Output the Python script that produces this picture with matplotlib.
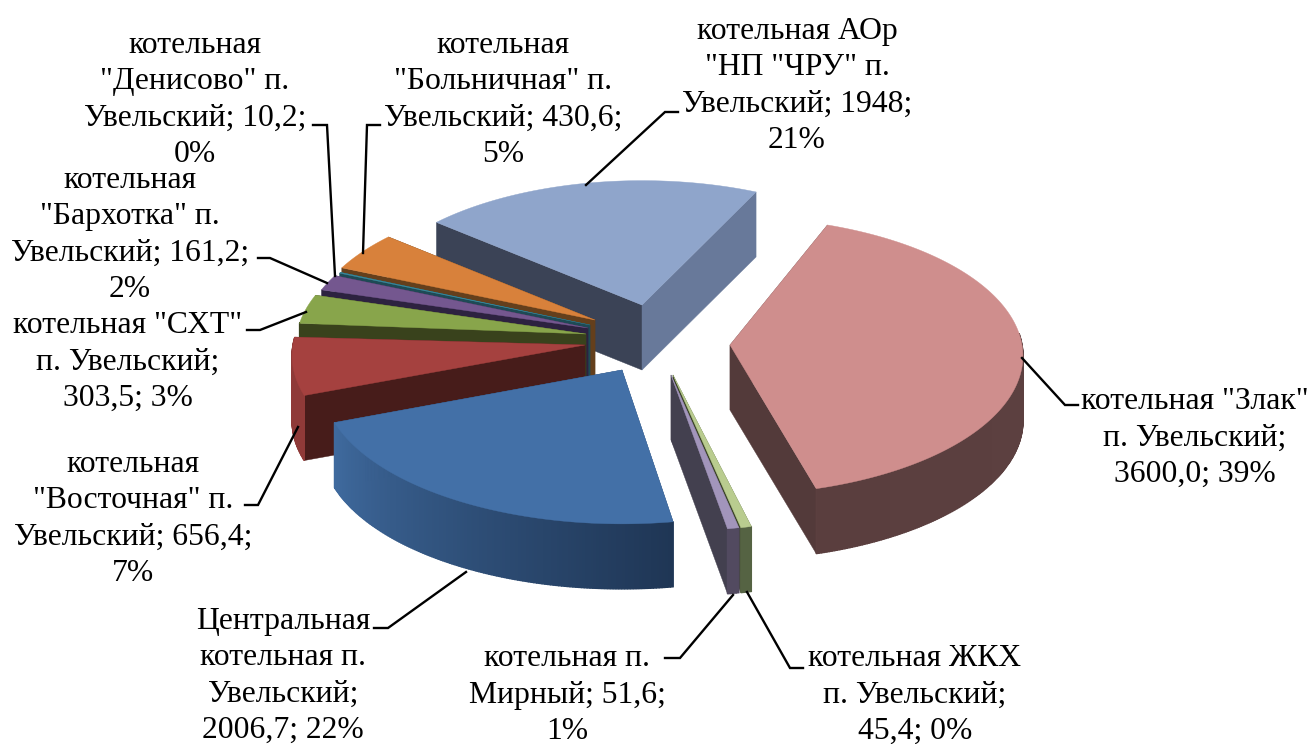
import numpy as np
import matplotlib
matplotlib.use('Agg')
import matplotlib.pyplot as plt
from matplotlib.patches import Polygon

# values, clockwise starting from the big red slice
names = ['Злак', 'ЖКХ', 'Мирный', 'Центральная', 'Восточная', 'СХТ', 'Бархотка', 'Денисово', 'Больничная', 'АОр']
values = [3600.0, 45.4, 51.6, 2006.7, 656.4, 303.5, 161.2, 10.2, 430.6, 1948.0]
labels = [
    'котельная "Злак"\nп. Увельский;\n3600,0; 39%',
    'котельная ЖКХ\nп. Увельский;\n45,4; 0%',
    'котельная п.\nМирный; 51,6;\n1%',
    'Центральная\nкотельная п.\nУвельский;\n2006,7; 22%',
    'котельная\n"Восточная" п.\nУвельский; 656,4;\n7%',
    'котельная "СХТ"\nп. Увельский;\n303,5; 3%',
    'котельная\n"Бархотка" п.\nУвельский; 161,2;\n2%',
    'котельная\n"Денисово" п.\nУвельский; 10,2;\n0%',
    'котельная\n"Больничная" п.\nУвельский; 430,6;\n5%',
    'котельная АОр\n"НП "ЧРУ" п.\nУвельский; 1948;\n21%',
]

# look of every slice: apex on the canvas, radius factor, start/end angle nudge (perspective)
apex = [(730, 345), (673, 375), (671, 375), (622, 370), (585, 345), (586, 334), (588, 328), (590, 325), (595, 320), (642, 305)]
rad = [1.0, 1.04, 1.04, 1.025, 1.0, 0.99, 0.975, 0.965, 0.975, 0.97]
nudge = [(0, 2.5), (4.6, 4.7), (4.7, 4.7), (5.5, 5), (5.3, 3.8), (5, 5.5), (5.5, 6), (6, 6), (5.5, 5.5), (5.5, 4.5)]
top_col = ['#cf8e8d', '#b9cc8f', '#a295bb', '#4370a7', '#a5413f', '#88a54b', '#74578f', '#3a8a9e', '#d8813b', '#8fa5cb']
start_face = ['#6a5050', '#556343', '#524a60', '#2b4a73', '#471c1a', '#39421c', '#2d2240', '#1e4a55', '#643f1c', '#3b4356']
end_face = ['#533a3a', '#3c4528', '#43404f', '#2b4a73', '#471c1a', '#39421c', '#2d2240', '#1e4a55', '#643f1c', '#68799a']
wall_from = ['#5f4343', '#556343', '#524a60', '#1f3655', '#8f3a38', '#39421c', '#2d2240', '#1e4a55', '#643f1c', '#68799a']
wall_to = ['#5a3e3e', '#556343', '#524a60', '#3f6a9e', '#8f3a38', '#39421c', '#2d2240', '#1e4a55', '#643f1c', '#68799a']

# leader lines
leaders = [
    [(1022, 358), (1065, 405), (1078, 405)],
    [(747, 592), (790, 668), (803, 668)],
    [(733, 595), (680, 658), (665, 658)],
    [(466, 572), (388, 628), (374, 628)],
    [(298, 427), (258, 505), (245, 505)],
    [(306, 312), (260, 330), (247, 330)],
    [(327, 283), (270, 258), (258, 258)],
    [(335, 276), (327, 125), (313, 125)],
    [(363, 253), (367, 125), (380, 125)],
    [(586, 185), (665, 112), (678, 112)],
]
label_pos = [(1195, 438), (915, 695), (567, 695), (283, 676), (133, 519), (128, 362), (130, 235), (195, 100), (503, 100), (797, 86)]

R = 292.0
RK = 138.0
PERSP = 12.7
DEPTH = 65.0
START = 21.0

plt.rcParams['font.family'] = ['Liberation Serif', 'DejaVu Serif']
fig = plt.figure(figsize=(13.11, 7.44), dpi=100)
ax = fig.add_axes([0, 0, 1, 1])
ax.set_xlim(0, 1311)
ax.set_ylim(744, 0)
ax.axis('off')


def point(i, ang, r=1.0):
    t = np.radians(ang)
    gx = r * rad[i] * np.sin(t)
    gy = r * rad[i] * np.cos(t)
    s = PERSP / (PERSP + gy)
    return apex[i][0] + s * gx * R, apex[i][1] - s * gy * RK


def mix(c1, c2, f):
    a = np.array(matplotlib.colors.to_rgb(c1))
    b = np.array(matplotlib.colors.to_rgb(c2))
    return a + (b - a) * f


shares = np.array(values) / np.sum(values) * 360
edges = START + np.concatenate([[0], np.cumsum(shares)])

# back slices first, the ones in front over them
order = [9, 8, 7, 6, 5, 4, 3, 0, 1, 2]
for i in order:
    a1 = edges[i] + nudge[i][0]
    a2 = edges[i + 1] + nudge[i][1]
    arc = np.linspace(a1, a2, max(int(a2 - a1) * 2, 2) + 1)
    pts = [point(i, a) for a in arc]
    ap = apex[i]
    z = 1 + order.index(i)

    # radial faces
    for p, col in ((pts[0], start_face[i]), (pts[-1], end_face[i])):
        quad = [ap, p, (p[0], p[1] + DEPTH), (ap[0], ap[1] + DEPTH)]
        ax.add_patch(Polygon(quad, closed=True, fc=col, ec=col, lw=0.3, zorder=z))

    # outer wall in small strips so it can carry a gradient, only the part facing the viewer
    for k in range(len(pts) - 1):
        if not 85 < arc[k] % 360 < 275:
            continue
        p, q = pts[k], pts[k + 1]
        col = mix(wall_from[i], wall_to[i], k / max(len(pts) - 2, 1))
        quad = [p, q, (q[0], q[1] + DEPTH), (p[0], p[1] + DEPTH)]
        ax.add_patch(Polygon(quad, closed=True, fc=col, ec=col, lw=1.0, zorder=z + 0.2))

    ax.add_patch(Polygon([ap] + pts, closed=True, fc=top_col[i], ec=top_col[i], lw=0.3, zorder=z + 0.5))

for i in range(len(names)):
    xs = [p[0] for p in leaders[i]]
    ys = [p[1] for p in leaders[i]]
    ax.plot(xs, ys, color='black', lw=1.7, zorder=20, solid_joinstyle='miter')
    ax.text(label_pos[i][0], label_pos[i][1], labels[i], ha='center', va='center', multialignment='center',
            fontsize=22.8, color='black', linespacing=1.33, zorder=21)

fig.savefig('out.png', dpi=100, facecolor='white')
